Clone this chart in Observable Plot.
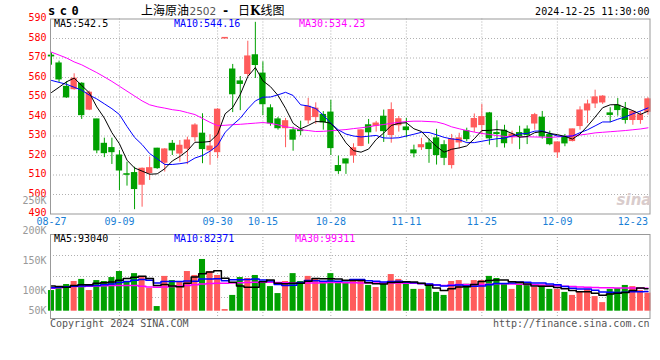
<!DOCTYPE html>
<html><head><meta charset="utf-8">
<script src="https://cdn.jsdelivr.net/npm/d3@7"></script>
<script src="https://cdn.jsdelivr.net/npm/@observablehq/plot@0.6"></script>
<style>
body{margin:0;background:#fff;}
#chart{position:relative;width:660px;height:360px;overflow:hidden;background:#fff;}
#chart svg{position:absolute;left:0;top:0;}
</style></head><body><div id="chart"></div>
<script>
// ---- data ----
const dates = ["08-27","08-28","08-29","08-30","09-02","09-03","09-04","09-05","09-06","09-09",
"09-10","09-11","09-12","09-13","09-18","09-19","09-20","09-23","09-24","09-25",
"09-26","09-27","09-30","10-08","10-09","10-10","10-11","10-14","10-15","10-16",
"10-17","10-18","10-21","10-22","10-23","10-24","10-25","10-28","10-29","10-30",
"10-31","11-01","11-04","11-05","11-06","11-07","11-08","11-11","11-12","11-13",
"11-14","11-15","11-18","11-19","11-20","11-21","11-22","11-25","11-26","11-27",
"11-28","11-29","12-02","12-03","12-04","12-05","12-06","12-09","12-10","12-11",
"12-12","12-13","12-16","12-17","12-18","12-19","12-20","12-23","12-24","12-25"];
const open = [571.2,567.2,555.2,554.0,556.8,543.5,538.5,526.0,523.8,520.0,
510.4,511.0,505.0,511.0,523.5,516.3,526.0,521.0,523.5,529.4,
531.2,522.6,521.7,580.0,564.1,558.0,561.8,571.4,562.0,544.2,
538.5,534.0,532.9,533.0,538.0,539.7,540.8,542.0,514.6,518.0,
520.0,524.9,535.5,535.2,539.9,530.5,535.5,534.4,522.6,524.2,
526.2,528.8,525.3,515.1,526.7,532.5,534.4,535.6,541.6,531.5,
532.7,529.4,531.5,533.3,536.4,539.4,530.5,521.6,529.1,527.4,
535.1,543.1,546.7,547.2,541.6,545.5,543.8,538.2,538.2,542.4];
const high = [572.6,568.4,557.8,561.9,557.3,553.0,538.6,528.9,528.9,522.5,
516.6,514.0,513.6,519.2,523.7,523.5,527.7,527.7,529.4,536.3,
541.4,530.7,544.0,580.3,566.7,560.5,578.6,588.3,568.0,546.0,
539.5,539.0,534.5,537.6,549.3,547.0,542.5,548.3,519.7,518.2,
526.0,533.2,538.5,537.5,543.3,547.0,540.0,539.0,525.3,528.8,
528.4,533.4,527.6,530.8,531.4,534.0,541.3,546.2,542.1,537.8,
535.5,532.5,535.0,535.2,541.6,542.6,532.5,526.9,530.8,533.5,
545.0,548.4,553.5,550.7,544.5,549.2,547.2,542.6,542.4,549.6];
const low = [566.3,557.5,549.3,553.5,538.5,543.0,520.9,518.9,515.4,502.0,
504.3,492.2,493.5,507.2,512.9,511.5,520.0,516.6,515.3,527.0,
515.8,515.0,518.3,580.0,542.0,543.0,560.4,559.5,540.5,535.0,
533.0,524.0,522.2,530.1,536.0,536.0,533.0,520.0,510.3,510.3,
516.0,524.5,525.8,532.0,526.7,526.3,532.0,529.0,518.8,522.6,
516.0,515.1,514.8,513.1,523.3,527.0,531.8,530.5,525.3,524.0,
523.8,525.8,523.0,525.6,533.0,528.4,525.0,518.5,524.5,527.0,
533.0,536.4,544.1,546.2,536.8,540.2,536.1,535.5,536.0,540.7];
const close = [570.8,559.0,549.8,559.4,540.7,552.2,522.6,521.2,521.7,512.3,
510.1,502.8,513.2,513.5,513.5,523.1,522.6,525.0,527.7,535.4,
523.3,524.6,543.5,580.3,551.4,556.7,570.8,566.4,546.3,536.5,
534.0,537.6,528.1,532.5,545.0,544.0,537.0,523.8,512.0,515.9,
523.7,532.9,531.9,536.4,532.5,543.3,538.6,533.0,521.1,525.3,
523.3,520.2,518.8,528.4,528.8,528.4,538.7,539.7,528.8,531.0,
526.3,530.8,530.0,530.5,540.7,529.7,525.8,526.7,526.2,533.4,
543.1,546.2,549.8,550.2,540.8,543.3,538.2,542.4,540.7,548.8];
// volume, thousands of lots
const volume = [89,103,115,128,137,89,132,128,145,171,
128,162,145,98,20,150,132,128,171,154,
223,171,154,7,68,145,141,154,128,106,
76,128,162,128,150,137,124,162,121,125,
128,128,111,102,118,158,137,122,94,94,
111,81,68,128,132,116,132,132,150,141,
119,94,119,111,102,111,94,94,81,68,
81,94,63,37,94,98,111,106,89,78];
const ma5 = [552.3,555.0,557.8,559.7,555.9,552.2,544.9,539.2,531.7,526.0,
517.6,513.6,512.0,510.4,510.6,513.2,517.2,519.5,522.4,526.8,
526.8,527.2,530.9,541.4,544.6,551.3,560.5,565.1,558.3,555.3,
550.8,544.2,536.5,533.7,535.4,537.4,537.3,536.5,532.4,526.5,
522.5,521.7,523.3,528.2,531.5,535.4,536.5,536.8,533.7,532.3,
528.3,524.6,521.7,523.2,523.9,524.9,528.6,532.8,532.9,533.3,
532.9,531.3,529.4,529.7,531.7,532.3,531.3,530.7,529.8,528.4,
531.0,535.1,539.7,544.5,546.0,546.1,544.5,543.0,541.1,542.7];
const ma10 = [558.5,557.5,556.5,555.0,553.5,551.0,549.0,546.5,544.0,541.0,
534.9,529.3,525.6,521.0,518.3,515.4,515.4,515.8,516.4,518.7,
520.0,522.2,525.2,531.9,535.7,539.1,543.9,548.0,549.9,550.0,
551.1,552.4,550.8,546.0,545.4,544.1,540.7,536.5,533.1,531.0,
530.0,529.5,529.9,530.3,529.0,528.9,529.1,530.0,530.9,531.9,
531.8,530.6,529.3,528.5,528.1,526.6,526.6,527.3,528.0,528.6,
528.9,530.0,531.1,531.3,532.5,532.6,531.3,530.0,529.8,530.0,
531.7,533.2,535.2,537.2,537.2,538.6,539.8,541.4,542.8,544.4];
const ma30 = [573.0,571.5,570.0,568.0,566.5,564.5,562.5,560.3,558.0,555.5,
553.0,550.5,548.0,546.0,545.0,544.3,543.5,543.0,542.0,541.0,
539.0,537.0,535.3,535.5,535.8,536.0,536.3,536.6,536.9,536.5,
535.7,534.7,534.2,533.2,532.8,532.3,532.4,532.7,533.0,533.3,
533.8,534.2,534.7,535.4,535.9,536.5,537.0,537.4,537.6,537.6,
537.4,537.2,536.2,534.7,533.7,532.8,532.0,531.3,530.8,530.2,
529.8,529.6,529.6,529.6,529.5,529.4,529.3,529.5,529.8,530.2,
530.5,531.0,531.6,531.9,532.2,532.5,532.8,533.2,533.6,534.2];
const volMa5 = [109,106,103,111,114.4,114.4,120.2,122.8,126.2,133,
140.8,146.8,150.2,140.8,110.6,115,109,105.6,120.2,147,
161.6,169.4,174.6,141.8,124.6,109,103,103,127.2,134.8,
121,118.4,120,120,128.8,141,140.2,140.2,138.8,133.8,
132,132.8,122.6,118.8,117.4,123.4,125.2,127.4,125.8,121,
111.6,100.4,89.6,96.4,104,105,115.2,128,132.4,134.2,
134.8,127.2,124.6,116.8,109,107.4,107.4,102.4,96.4,89.6,
83.6,83.6,77.4,68.6,73.8,77.2,80.6,89.2,99.6,96.4];
const volMa10 = [101,103,105,108,109,110,111,114,117,123.7,
127.6,133.5,136.5,133.5,121.8,127.9,127.9,127.9,130.5,128.8,
138.3,139.2,140.1,131,135.8,135.3,136.2,138.8,134.5,129.7,
115,110.7,111.5,123.6,131.8,131,129.3,130.1,129.4,131.3,
136.5,136.5,131.4,128.8,125.6,127.7,129,125,122.3,119.2,
117.5,112.8,108.5,111.1,112.5,108.3,107.8,108.8,114.4,119.1,
119.9,121.2,126.3,124.6,121.6,121.1,117.3,113.5,106.6,99.3,
95.5,95.5,89.9,82.5,81.7,80.4,82.1,83.3,84.1,85.1];
const volMa30 = [99,101,103,106,107,108,109,110,111,111,
111,111,108,104,103,104,106,109,111,114,
117,119,121,121,122,123,124,125,125,125,
124,123,122,122,122,122,123,124,124,123,
123,122,122,122,122,122,122,121,120,118,
116,113,111,113,115,115,115,115,116,118,
118,117,116,115,114,113,111,110,108,106,
104,103,102,101,101,100,100,100,99,99];
const xTickLabels = ["08-27","09-09","09-30","10-15","10-28","11-11","11-25","12-09","12-23"];
const priceTicks = [490,500,510,520,530,540,550,560,570,580,590];
const volumeTicks = [50,100,150,200,250];
const symbol = "sc0";
const titleName = "上海原油";
const titleCode = "2502";
const titleKind = ["日","K","线图"];
const timestamp = "2024-12-25 11:30:00";
const priceMaLabels = ["MA5:542.5","MA10:544.16","MA30:534.23"];
const volumeMaLabels = ["MA5:93040","MA10:82371","MA30:99311"];
const copyrightText = "Copyright 2024 SINA.COM";
const urlText = "http://finance.sina.com.cn";

// ---- build ----
const UP = "#ff5b5b", DOWN = "#00a000";
const MA_COLORS = ["#000000", "#0000ff", "#ff00ff"];
const GRID = {stroke: "#b0b0b0", strokeDasharray: "1,2"};
const candles = dates.map((d, i) => ({i, date: d, open: open[i], high: high[i], low: low[i], close: close[i], volume: volume[i]}));
const col = d => d.close >= d.open ? UP : DOWN;
const tickIdx = xTickLabels.map(l => dates.indexOf(l));
const gridIdx = tickIdx.slice(1, -1);
const xDomain = [-0.1325, 79.27];
const font = {fontFamily: "DejaVu Sans Mono", fontSize: "10px", background: "transparent"};
const idx = (d, i) => i;
const val = d => d;

const main = Plot.plot({
  width: 660, height: 230,
  marginLeft: 50, marginRight: 10.5, marginTop: 18.5, marginBottom: 16.5,
  style: font,
  x: {domain: xDomain},
  y: {domain: [490, 590]},
  color: {type: "identity"},
  marks: [
    Plot.ruleY(priceTicks.slice(1, -1), GRID),
    Plot.ruleX(gridIdx, GRID),
    Plot.axisY({ticks: priceTicks, tickSize: 0, tickPadding: 4, color: "#ff0000", label: null, dy: -1}),
    Plot.axisX({ticks: tickIdx, tickFormat: i => dates[i], tickSize: 0, tickPadding: 4, color: "#1a7fd6", label: null}),
    Plot.ruleX(candles, {x: "i", y1: "low", y2: "high", stroke: col}),
    Plot.rect(candles, {x1: d => d.i - 0.42, x2: d => d.i + 0.42, y1: "open", y2: "close", fill: col, insetTop: -0.5, insetBottom: -0.5}),
    Plot.line(ma30, {x: idx, y: val, stroke: MA_COLORS[2], strokeWidth: 1}),
    Plot.line(ma10, {x: idx, y: val, stroke: MA_COLORS[1], strokeWidth: 1}),
    Plot.line(ma5, {x: idx, y: val, stroke: MA_COLORS[0], strokeWidth: 1}),
    Plot.frame({stroke: "#999"})
  ]
});

const volDomain = [-31.47, 330.6];
const vol = Plot.plot({
  width: 660, height: 360,
  marginLeft: 50, marginRight: 10.5, marginTop: 234, marginBottom: 42,
  style: font,
  x: {domain: xDomain, axis: null},
  y: {domain: volDomain, axis: null},
  color: {type: "identity"},
  marks: [
    Plot.ruleY([1, 2, 3].map(j => volDomain[0] + (volDomain[1] - volDomain[0]) * j / 4), GRID),
    Plot.ruleX(gridIdx, GRID),
    Plot.rect(candles, {x1: d => d.i - 0.4, x2: d => d.i + 0.4, y1: d => 0, y2: "volume", fill: col}),
    Plot.line(volMa30, {x: idx, y: val, stroke: MA_COLORS[2], curve: "step"}),
    Plot.line(volMa10, {x: idx, y: val, stroke: MA_COLORS[1], curve: "step"}),
    Plot.line(volMa5, {x: idx, y: val, stroke: MA_COLORS[0], curve: "step"}),
    Plot.frame({stroke: "#999"})
  ]
});

const volAxis = Plot.plot({
  width: 660, height: 360,
  marginLeft: 50, marginRight: 10.5, marginTop: 200.6, marginBottom: 49.3,
  style: font,
  y: {domain: [66.5, 250], clamp: true},
  marks: [
    Plot.axisY({ticks: volumeTicks, tickFormat: d => d + "K", tickSize: 0, tickPadding: 4, color: "#999", label: null})
  ]
});

const chart = document.getElementById("chart");
chart.append(main, vol, volAxis);

// ---- texts ----
const svg = d3.select(chart).append("svg").attr("width", 660).attr("height", 360);
const mono = "DejaVu Sans Mono";
function txt(x, y, s, o = {}) {
  return svg.append("text").attr("x", x).attr("y", y)
    .attr("font-family", o.family || mono).attr("font-size", o.size || 10)
    .attr("font-weight", o.weight || "normal").attr("fill", o.fill || "#000")
    .attr("text-anchor", o.anchor || "start")
    .attr("letter-spacing", o.ls || 0)
    .attr("font-style", o.style || "normal")
    .text(s);
}
txt(48, 15, symbol, {size: 12, weight: "bold", ls: 4.5});
txt(141, 15, titleName, {family: "Noto Sans CJK SC", size: 12});
txt(189.5, 15, titleCode, {family: "DejaVu Sans", size: 10.5, fill: "#555"});
txt(222, 15, "-", {size: 12, weight: "bold"});
const t = svg.append("text").attr("x", 238).attr("y", 15).attr("font-family", "Noto Sans CJK SC").attr("font-size", 12).attr("fill", "#000");
t.append("tspan").text(titleKind[0]);
t.append("tspan").attr("font-weight", "bold").attr("font-family", "DejaVu Serif").text(titleKind[1]);
t.append("tspan").text(titleKind[2]);
txt(649.5, 15, timestamp, {anchor: "end"});
[54, 174, 299].forEach((x, k) => txt(x, 27, priceMaLabels[k], {fill: MA_COLORS[k]}));
[54, 174, 295].forEach((x, k) => txt(x, 242, volumeMaLabels[k], {fill: MA_COLORS[k]}));
txt(50, 327, copyrightText, {fill: "#555"});
txt(649.5, 327, urlText, {fill: "#555", anchor: "end"});
txt(634, 205, "sina", {family: "DejaVu Sans", size: 15, weight: "bold", style: "italic", fill: "#d9cccc", anchor: "middle"});
</script>
</body></html>
